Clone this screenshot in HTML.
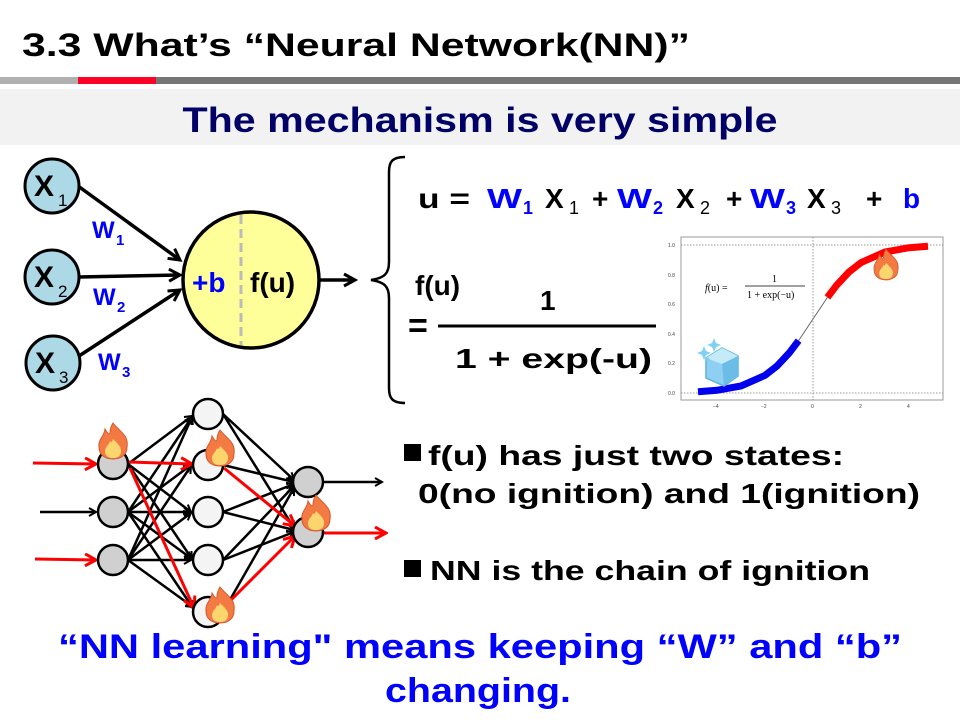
<!DOCTYPE html>
<html><head><meta charset="utf-8"><style>
html,body{margin:0;padding:0;background:#fff;}
svg{display:block;font-family:"Liberation Sans",sans-serif;font-weight:bold;}
</style></head><body>
<svg width="960" height="720" viewBox="0 0 960 720" xmlns="http://www.w3.org/2000/svg">
<defs>
<marker id="ab" markerWidth="10" markerHeight="10" refX="8" refY="5" orient="auto" markerUnits="userSpaceOnUse"><path d="M1,1 L8,5 L1,9" fill="none" stroke="#000" stroke-width="2"/></marker>
<marker id="ar" markerWidth="14" markerHeight="14" refX="12" refY="7" orient="auto" markerUnits="userSpaceOnUse"><path d="M1,1 L12,7 L1,13" fill="none" stroke="#f00" stroke-width="3"/></marker>
<marker id="ab2" markerWidth="16" markerHeight="16" refX="13" refY="8" orient="auto" markerUnits="userSpaceOnUse"><path d="M2,2 L13,8 L2,14" fill="none" stroke="#000" stroke-width="3"/></marker>
<g id="flame"><path d="M0,-22 C6,-14 16,-10 14,2 C14,10 8,14 0,14 C-8,14 -14,10 -14,2 C-15,-6 -9,-8 -8,-16 C-5,-11 -4,-10 -3,-12 C-3,-16 -2,-19 0,-22Z" fill="#f47a44" stroke="#d4572c" stroke-width="1"/><path d="M0,-6 C4,-2 9,2 8,7 C7,12 4,13 0,13 C-5,13 -8,11 -8,6 C-8,2 -4,0 -3,-4 C-2,-2 -1,-3 0,-6Z" fill="#fbd56e"/></g>
</defs>

<!-- header -->
<text x="22" y="56" font-size="32" textLength="668" lengthAdjust="spacingAndGlyphs">3.3 What’s “Neural Network(NN)”</text>
<rect x="0" y="77" width="78" height="7" fill="#b0b0b0"/>
<rect x="78" y="77" width="78" height="7" fill="#ff0026"/>
<rect x="156" y="77" width="804" height="7" fill="#767676"/>
<rect x="0" y="89" width="960" height="56" fill="#f2f2f2"/>
<text x="480" y="132" font-size="35" fill="#000066" text-anchor="middle" textLength="595" lengthAdjust="spacingAndGlyphs">The mechanism is very simple</text>

<!-- single neuron -->
<g stroke="#000" stroke-width="3.5" fill="none">
<line x1="78" y1="186" x2="180" y2="260" marker-end="url(#ab2)"/>
<line x1="79" y1="277" x2="180" y2="275" marker-end="url(#ab2)"/>
<line x1="79" y1="356" x2="180" y2="290" marker-end="url(#ab2)"/>
<line x1="320" y1="280" x2="355" y2="280" marker-end="url(#ab2)"/>
</g>
<g fill="#add8e6" stroke="#000" stroke-width="3">
<circle cx="52" cy="186" r="27"/><circle cx="52" cy="277" r="27"/><circle cx="53" cy="363" r="27"/>
</g>
<g font-size="30" fill="#000"><text x="34" y="196">X</text><text x="34" y="287">X</text><text x="35" y="373">X</text></g>
<g font-size="17" font-weight="normal" fill="#000"><text x="58" y="206">1</text><text x="58" y="297">2</text><text x="59" y="383">3</text></g>
<g fill="#0000ff"><text x="92" y="238" font-size="24">W</text><text x="116" y="245" font-size="15">1</text>
<text x="93" y="305" font-size="24">W</text><text x="117" y="312" font-size="15">2</text>
<text x="98" y="370" font-size="24">W</text><text x="122" y="377" font-size="15">3</text></g>
<circle cx="251" cy="280" r="68" fill="#ffff99" stroke="#000" stroke-width="3.5"/>
<line x1="241" y1="215" x2="241" y2="345" stroke="#bbb" stroke-width="3" stroke-dasharray="9,5"/>
<text x="192" y="292" font-size="28" fill="#0000ff">+b</text>
<text x="250" y="292" font-size="28" fill="#000">f(u)</text>
<!-- brace -->
<path d="M405,157 C392,157 389,162 389,172 L389,262 C389,274 384,278 371,280 C384,282 389,286 389,298 L389,388 C389,398 392,403 405,403" fill="none" stroke="#000" stroke-width="2.5"/>

<!-- equations -->
<g font-size="28">
<text x="418" y="208" textLength="52" lengthAdjust="spacingAndGlyphs">u =</text>
<text x="487" y="208" fill="#0000ff" textLength="35" lengthAdjust="spacingAndGlyphs">W</text>
<text x="523" y="214" font-size="18" fill="#0000ff">1</text>
<text x="545" y="208">X</text><text x="569" y="214" font-size="18" font-weight="normal">1</text>
<text x="592" y="208">+</text>
<text x="617" y="208" fill="#0000ff" textLength="35" lengthAdjust="spacingAndGlyphs">W</text>
<text x="653" y="214" font-size="18" fill="#0000ff">2</text>
<text x="676" y="208">X</text><text x="700" y="214" font-size="18" font-weight="normal">2</text>
<text x="726" y="208">+</text>
<text x="750" y="208" fill="#0000ff" textLength="35" lengthAdjust="spacingAndGlyphs">W</text>
<text x="786" y="214" font-size="18" fill="#0000ff">3</text>
<text x="807" y="208">X</text><text x="831" y="214" font-size="18" font-weight="normal">3</text>
<text x="866" y="208">+</text>
<text x="903" y="208" fill="#0000ff">b</text>
<text x="415" y="295">f(u)</text>
<text x="540" y="310">1</text>
<text x="408" y="337" font-size="34">=</text>
<text x="455" y="368" textLength="197" lengthAdjust="spacingAndGlyphs">1 + exp(-u)</text>
</g>
<line x1="438" y1="326" x2="656" y2="326" stroke="#000" stroke-width="3"/>

<!-- plot -->
<rect x="681" y="237" width="262" height="163" fill="#fff" stroke="#999" stroke-width="1"/>
<line x1="681" y1="245" x2="943" y2="245" stroke="#999" stroke-dasharray="1.5,1.5"/>
<line x1="681" y1="393" x2="943" y2="393" stroke="#999" stroke-dasharray="1.5,1.5"/>
<line x1="813" y1="237" x2="813" y2="400" stroke="#999" stroke-dasharray="1.5,1.5"/>
<g font-size="5" font-weight="normal" fill="#444">
<text x="668" y="247">1.0</text><text x="668" y="277">0.8</text><text x="668" y="306">0.6</text><text x="668" y="336">0.4</text><text x="668" y="365">0.2</text><text x="668" y="395">0.0</text>
<text x="713" y="408">−4</text><text x="761" y="408">−2</text><text x="811" y="408">0</text><text x="859" y="408">2</text><text x="907" y="408">4</text>
</g>
<g font-family="Liberation Serif,serif" font-weight="normal" fill="#000">
<text x="705" y="291" font-size="10"><tspan font-style="italic">f</tspan>(u)  =</text>
<text x="772" y="282" font-size="10">1</text>
<line x1="745" y1="286" x2="805" y2="286" stroke="#000" stroke-width="0.8"/>
<text x="747" y="298" font-size="10">1 + exp(−u)</text>
</g>
<polyline points="798.6,340.6 813,319 827.4,297.4" fill="none" stroke="#666" stroke-width="1"/>
<polyline points="698,391.8 717,390.3 741,386 765,375.4 777,366 789,353.2 798.6,340.6" fill="none" stroke="#0000ee" stroke-width="7"/>
<polyline points="827.4,297.4 837,284.8 849,272 861,262.6 885,252 909,247.7 928,246.2" fill="none" stroke="#f00" stroke-width="7"/>
<use href="#flame" transform="translate(886,268) scale(0.85)"/>
<!-- ice -->
<g transform="translate(722,368)">
<polygon points="-16,-10 0,-20 16,-12 16,8 2,18 -16,10" fill="#8fd0f2" stroke="#5ab2e0" stroke-width="1.5"/>
<polygon points="-16,-10 0,-20 16,-12 0,-4" fill="#c5ebfb"/>
<polygon points="0,-4 16,-12 16,8 2,18" fill="#6cbce8"/>
<path d="M-18,-22 l2,5 5,2 -5,2 -2,5 -2,-5 -5,-2 5,-2z M-8,-30 l2,5 5,2 -5,2 -2,5 -2,-5 -5,-2 5,-2z M-14,-12 l1,3 3,1 -3,1 -1,3 -1,-3 -3,-1 3,-1z" fill="#7fd0f4"/>
</g>

<!-- network -->
<g stroke="#000" stroke-width="2.5" marker-end="url(#ab)">
<line x1="128" y1="464" x2="192" y2="416"/><line x1="128" y1="464" x2="191" y2="512"/><line x1="128" y1="464" x2="192" y2="559"/>
<line x1="128" y1="512" x2="192" y2="417"/><line x1="128" y1="512" x2="191" y2="465"/><line x1="128" y1="512" x2="191" y2="512"/><line x1="128" y1="512" x2="192" y2="559"/><line x1="128" y1="512" x2="193" y2="608"/>
<line x1="128" y1="560" x2="192" y2="417"/><line x1="128" y1="560" x2="191" y2="466"/><line x1="128" y1="560" x2="191" y2="513"/><line x1="128" y1="560" x2="191" y2="560"/><line x1="128" y1="560" x2="193" y2="607"/>
<line x1="223" y1="414" x2="294" y2="480"/><line x1="223" y1="414" x2="294" y2="528"/>
<line x1="223" y1="465" x2="294" y2="482"/>
<line x1="223" y1="512" x2="294" y2="484"/><line x1="223" y1="512" x2="294" y2="530"/>
<line x1="223" y1="560" x2="294" y2="486"/><line x1="223" y1="560" x2="294" y2="532"/>
<line x1="223" y1="612" x2="294" y2="488"/>
<line x1="40" y1="512" x2="96" y2="512"/>
<line x1="323" y1="482" x2="382" y2="482"/>
</g>
<g stroke="#f00" stroke-width="3" marker-end="url(#ar)">
<line x1="33" y1="463" x2="96" y2="464"/>
<line x1="35" y1="559" x2="96" y2="560"/>
<line x1="128" y1="462" x2="192" y2="464"/>
<line x1="130" y1="468" x2="194" y2="608"/>
<line x1="224" y1="468" x2="295" y2="526"/>
<line x1="224" y1="607" x2="295" y2="536"/>
<line x1="323" y1="533" x2="386" y2="533"/>
</g>
<g stroke="#000" stroke-width="2.5">
<g fill="#d0d0d0"><circle cx="113" cy="464" r="15"/><circle cx="113" cy="512" r="15"/><circle cx="113" cy="560" r="15"/><circle cx="308" cy="482" r="15"/><circle cx="308" cy="532" r="15"/></g>
<g fill="#f4f4f4"><circle cx="208" cy="414" r="15"/><circle cx="208" cy="465" r="15"/><circle cx="208" cy="512" r="15"/><circle cx="208" cy="560" r="15"/><circle cx="208" cy="612" r="15"/></g>
</g>
<use href="#flame" transform="translate(113,445)"/>
<use href="#flame" transform="translate(220,452)"/>
<use href="#flame" transform="translate(316,517)"/>
<use href="#flame" transform="translate(220,609)"/>

<!-- bullets -->
<g font-size="28" fill="#000">
<rect x="404" y="444" width="17" height="17"/>
<text x="428" y="465" textLength="416" lengthAdjust="spacingAndGlyphs">f(u) has just two states:</text>
<text x="418" y="503" textLength="502" lengthAdjust="spacingAndGlyphs">0(no ignition) and 1(ignition)</text>
<rect x="404" y="560" width="17" height="17"/>
<text x="430" y="580" textLength="440" lengthAdjust="spacingAndGlyphs">NN is the chain of ignition</text>
</g>
<g font-size="34" fill="#0000ff" text-anchor="middle">
<text x="480" y="658" textLength="844" lengthAdjust="spacingAndGlyphs">“NN learning" means keeping “W” and “b”</text>
<text x="478" y="702" textLength="186" lengthAdjust="spacingAndGlyphs">changing.</text>
</g>
</svg>
</body></html>
